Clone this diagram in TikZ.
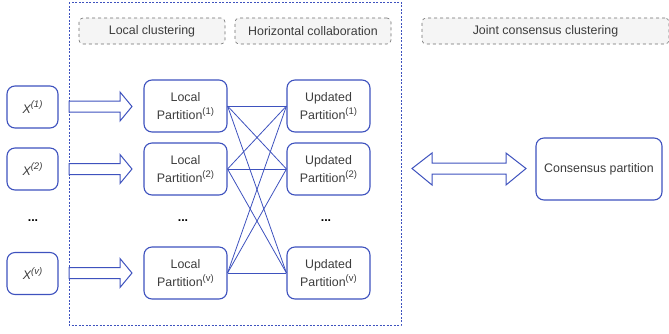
\documentclass[tikz,border=0pt]{standalone}
\usepackage{fontspec}
\setmainfont{Liberation Sans}
\usetikzlibrary{arrows}
\usetikzlibrary{shapes}
\usetikzlibrary{calc}
\definecolor{FrameBlue}{RGB}{62,82,190}
\definecolor{TextGray}{RGB}{60,60,60}
\definecolor{HeadFill}{RGB}{245,245,245}
\definecolor{HeadLine}{RGB}{110,110,110}
\newcommand{\supidx}[1]{\raisebox{0.42em}{\fontsize{9.5}{10}\selectfont #1}}
\tikzstyle{BaseNode}=[rectangle, rounded corners=8pt, draw=FrameBlue, line width=1.1pt, text=TextGray, align=center, font=\fontsize{12.4}{18}\selectfont]
\tikzstyle{DataNode}=[BaseNode, minimum width=51pt, minimum height=42pt]
\tikzstyle{PartNode}=[BaseNode, minimum width=83pt, minimum height=52pt]
\tikzstyle{ConsNode}=[BaseNode, minimum width=126pt, minimum height=62pt]
\tikzstyle{HeadNode}=[rectangle, rounded corners=4pt, draw=HeadLine, fill=HeadFill, dashed, line width=0.6pt, minimum height=26pt, text=TextGray, font=\fontsize{12.4}{14}\selectfont]
\tikzstyle{DotsNode}=[text=black, font=\fontsize{12.4}{14}\selectfont\bfseries]
\tikzstyle{CrossEdge}=[draw=FrameBlue, line width=0.8pt]
\tikzstyle{BlockArrow}=[draw=FrameBlue, fill=white, line width=1pt, line join=miter]
\tikzstyle{StageFrame}=[draw=FrameBlue, line width=0.8pt, dash pattern=on 2pt off 1.5pt]
\tikzset{>=latex}

\begin{document}
\begin{tikzpicture}[x=1pt, y=-1pt]
\useasboundingbox (0,0) rectangle (669,333);
\draw[StageFrame] (69,2) rectangle (401,325);

\node[HeadNode, minimum width=146pt](HLOC) at (152,31) {Local clustering};
\node[HeadNode, minimum width=156pt](HCOL) at (313,31) {Horizontal collaboration};
\node[HeadNode, minimum width=247pt](HCON) at (545.5,31) {Joint consensus clustering};

\node[DataNode](X1) at (32.5,107) {\itshape X\supidx{(1)}};
\node[DataNode](X2) at (32.5,169) {\itshape X\supidx{(2)}};
\node[DotsNode](XD) at (33,221) {...};
\node[DataNode](XV) at (32.5,273.5) {\itshape X\supidx{(v)}};

\node[PartNode](LP1) at (185.5,106) {Local\\Partition\supidx{(1)}};
\node[PartNode](LP2) at (185.5,169) {Local\\Partition\supidx{(2)}};
\node[DotsNode](LPD) at (183,221) {...};
\node[PartNode](LPV) at (185.5,273) {Local\\Partition\supidx{(v)}};

\node[PartNode](UP1) at (328.5,106) {Updated\\Partition\supidx{(1)}};
\node[PartNode](UP2) at (328.5,169) {Updated\\Partition\supidx{(2)}};
\node[DotsNode](UPD) at (326,221) {...};
\node[PartNode](UPV) at (328.5,273) {Updated\\Partition\supidx{(v)}};

\node[ConsNode](CP) at (599,169) {Consensus partition};

% block arrows into the local step
\foreach \y in {106.5,169,273}
  \draw[BlockArrow] (69,\y) ++(0,-5.5) -- ++(51,0) -- ++(0,-9) -- ++(12,14.5)
    -- ++(-12,14.5) -- ++(0,-9) -- ++(-51,0) -- cycle;

% double arrow to the consensus
\draw[BlockArrow] (412,168.5) -- (432,153) -- (432,163) -- (506,163) -- (506,153)
  -- (526,168.5) -- (506,185) -- (506,174) -- (432,174) -- (432,185) -- cycle;

\foreach \a in {LP1,LP2,LPV}
  \foreach \b in {UP1,UP2,UPV}
    \draw[CrossEdge](\a.east) -- (\b.west);
\end{tikzpicture}
\end{document}
